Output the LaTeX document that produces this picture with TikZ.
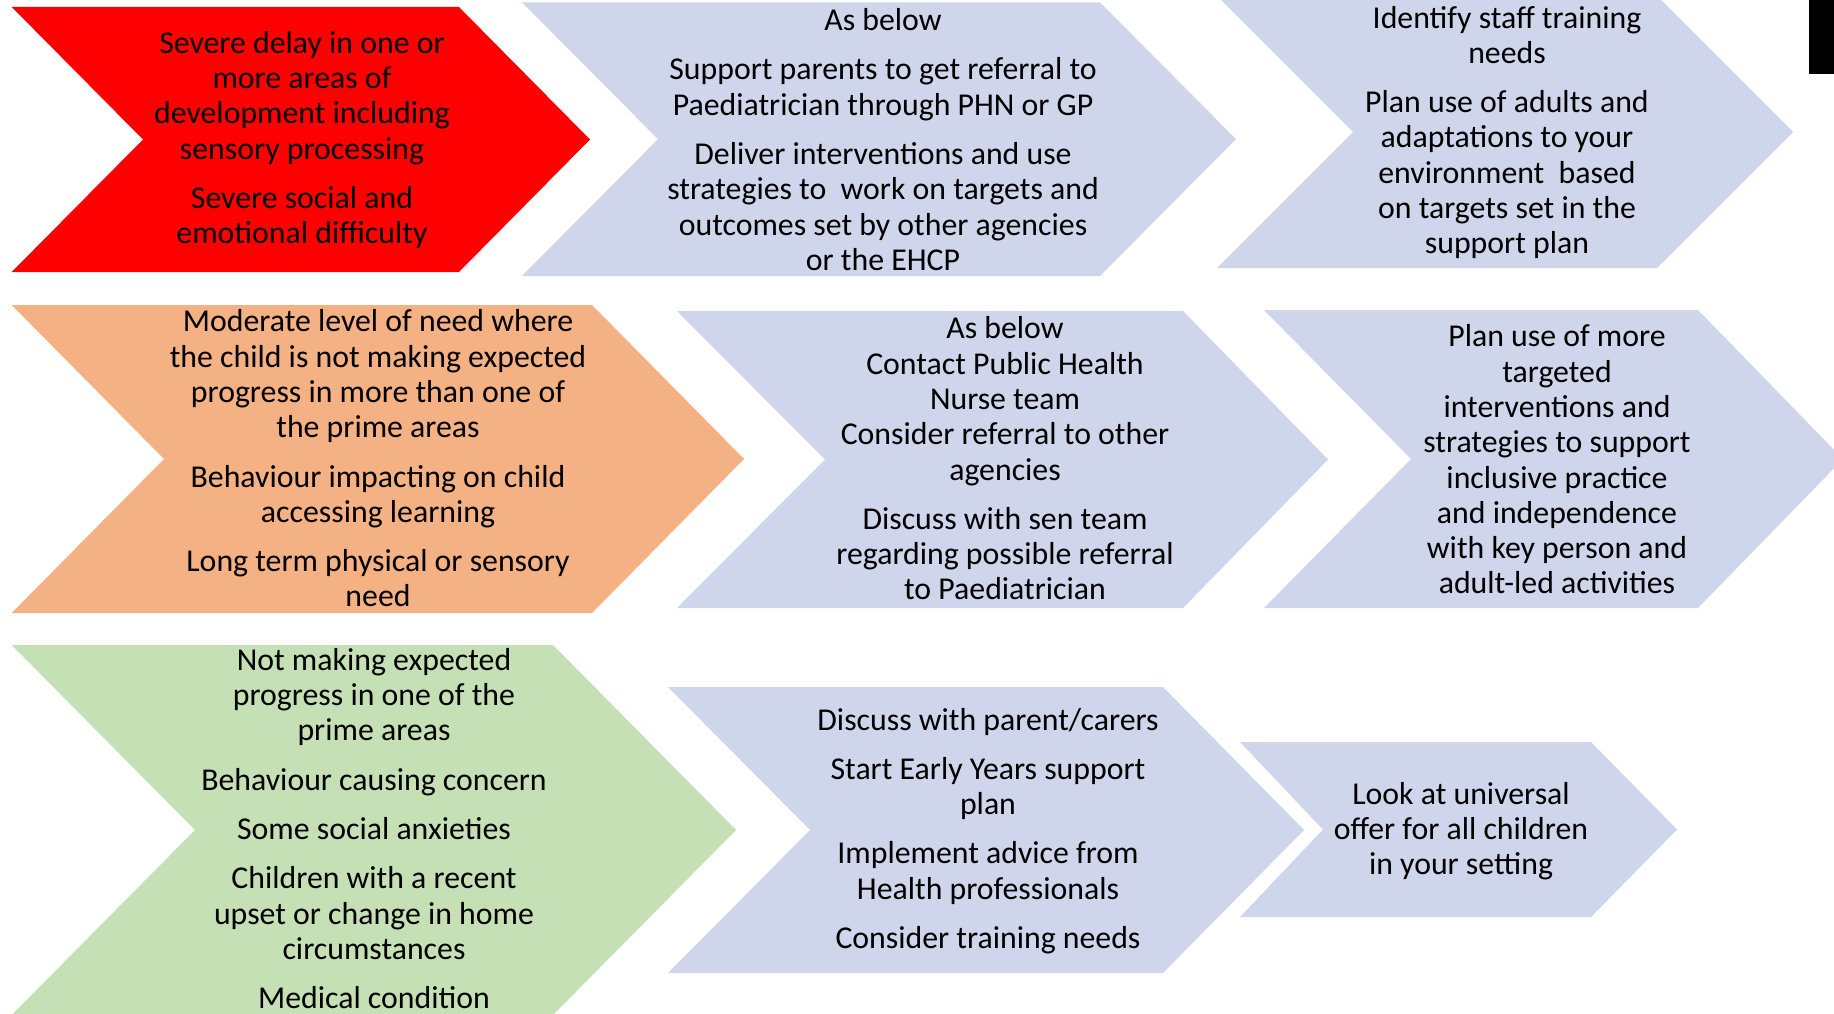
\documentclass[tikz,border=0pt]{standalone}
\usepackage{fontspec}
\setmainfont{Carlito}
\definecolor{cred}{HTML}{FF0000}
\definecolor{corange}{HTML}{F4B183}
\definecolor{cgreen}{HTML}{C5E0B4}
\definecolor{cblue}{HTML}{CFD5EA}
% #1 colour, #2 left x, #3 notch x, #4 corner x, #5 tip x, #6 top y, #7 bottom y
\newcommand\mychev[7]{%
  \fill[#1] (#2,#6) -- (#4,#6) -- (#5,{(#6+#7)/2}) -- (#4,#7) -- (#2,#7) -- (#3,{(#6+#7)/2}) -- cycle;}
\begin{document}
\begin{tikzpicture}[x=1pt,y=-1pt,
  txt/.style={align=center,inner sep=0pt,text=black,font=\fontsize{31.8}{35.3}\selectfont}]
\useasboundingbox (0,0) rectangle (1834,1014);
\clip (0,0) rectangle (1834,1014);
% row 1
\mychev{cred}{11.7}{143}{459}{590}{7}{272}
\mychev{cblue}{522}{658}{1100}{1236}{2.3}{276}
\mychev{cblue}{1217}{1353}{1657}{1793}{-4}{268}
\fill[black] (1809,0) rectangle (1834,74);
% row 2
\mychev{corange}{11.7}{164}{592}{744}{305}{613}
\mychev{cblue}{677}{825}{1183}{1328}{311}{608}
\mychev{cblue}{1264}{1411}{1698}{1843}{310}{608}
% row 3
\mychev{cgreen}{11.7}{195}{553}{736}{645}{1015}
\mychev{cblue}{668}{810}{1163}{1304}{687}{973}
\mychev{cblue}{1240}{1323}{1591}{1677}{742}{917}
% texts
\node[txt] (t1) at (302,140) {Severe delay in one or\\more areas of\\development including\\sensory processing\\[14pt]Severe social and\\emotional difficulty};
\node[txt] (t2) at (883,139.5) {As below\\[14pt]Support parents to get referral to\\Paediatrician through PHN or GP\\[14pt]Deliver interventions and use\\strategies to\ \ work on targets and\\outcomes set by other agencies\\or the EHCP};
\node[txt] (t3) at (1507,132.5) {Identify staff training\\needs\\[14pt]Plan use of adults and\\adaptations to your\\environment\ \ based\\on targets set in the\\support plan};
\node[txt] (t4) at (378,458.5) {Moderate level of need where\\the child is not making expected\\progress in more than one of\\the prime areas\\[14pt]Behaviour impacting on child\\accessing learning\\[14pt]Long term physical or sensory\\need};
\node[txt] (t5) at (1005,458.5) {As below\\Contact Public Health\\Nurse team\\Consider referral to other\\agencies\\[14pt]Discuss with sen team\\regarding possible referral\\to Paediatrician};
\node[txt] (t6) at (1557,459.5) {Plan use of more\\targeted\\interventions and\\strategies to support\\inclusive practice\\and independence\\with key person and\\adult-led activities};
\node[txt] (t7) at (374,828.5) {Not making expected\\progress in one of the\\prime areas\\[14pt]Behaviour causing concern\\[14pt]Some social anxieties\\[14pt]Children with a recent\\upset or change in home\\circumstances\\[14pt]Medical condition};
\node[txt] (t8) at (988,831) {Discuss with parent/carers\\[14pt]Start Early Years support\\plan\\[14pt]Implement advice from\\Health professionals\\[14pt]Consider training needs};
\node[txt] (t9) at (1461,831) {Look at universal\\offer for all children\\in your setting};
\end{tikzpicture}
\end{document}
